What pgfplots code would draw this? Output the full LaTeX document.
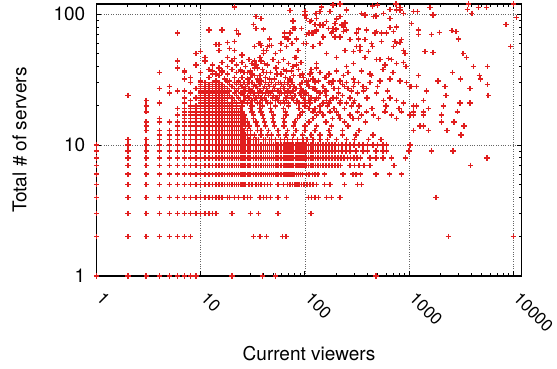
\documentclass[border=0pt]{standalone}
\usepackage{fontspec}
\setmainfont{TeX Gyre Heros}
\usepackage{pgfplots}
\pgfplotsset{compat=1.18}
\usetikzlibrary{calc}
\definecolor{mred}{RGB}{225,30,30}
\pgfplotsset{pts/.style={only marks, mark=+, mark size=2.7bp, color=mred, mark options={draw=mred, line width=1.45bp, solid}}}
\begin{document}
\fontsize{19bp}{22bp}\selectfont
\begin{tikzpicture}
\begin{axis}[
  scale only axis, width=425bp, height=272bp,
  xmode=log, ymode=log,
  xmin=1, xmax=12000, ymin=1, ymax=120,
  xtick={1,10,100,1000,10000}, xticklabels={1,10,100,1000,10000},
  ytick={1,10,100}, yticklabels={1,10,100},
  tick align=inside,
  major tick length=5bp, minor tick length=3bp,
  every tick/.style={draw=black, line width=0.8bp},
  axis line style={draw=black, line width=1.1bp},
  grid=major, major grid style={dotted, draw=black!60, line width=0.7bp},
  xlabel={Current viewers}, ylabel={Total \# of servers},
  xlabel style={at={(axis description cs:0.5,-0.285)}, anchor=center},
  ylabel style={at={(axis description cs:-0.181,0.5)}, anchor=center},
  xticklabel style={font=\fontsize{17bp}{20bp}\selectfont, anchor=north west, inner sep=0pt, xshift=8bp, yshift=-15bp, rotate=-45},
  yticklabel style={inner sep=0pt, xshift=-11bp},
]
% integer grid rows 1-5
\addplot[pts] coordinates {(1,1)(2,1)(3,1)(4,1)(5,1)(6,1)(7,1)(8,1)(9,1)(20,1)(39,1)(52,1)(480,1)
(1,2)(2,2)(3,2)(4,2)(5,2)(6,2)(7,2)(8,2)(32,2)(37,2)(43,2)(61,2)(66,2)(2380,2)(10000,2)
(1,3)(2,3)(3,3)(4,3)(5,3)(6,3)(7,3)(8,3)(9,3)(10,3)(11,3)(12,3)(13,3)(14,3)(20,3)(30,3)(36,3)(55,3)(114,3)
(1,4)(2,4)(3,4)(4,4)(5,4)(6,4)(7,4)(8,4)(9,4)(10,4)(11,4)(12,4)(13,4)(14,4)(15,4)(16,4)(18,4)(19,4)(21,4)(23,4)(26,4)(28,4)(30,4)(37,4)(40,4)(43,4)(47,4)(55,4)(67,4)(108,4)(116,4)(125,4)(135,4)(162,4)(180,4)(218,4)(1810,4)
(1,5)(2,5)(3,5)(4,5)(5,5)(6,5)(7,5)(8,5)(9,5)(10,5)(11,5)(12,5)(13,5)(14,5)(15,5)(16,5)(17,5)(18,5)(19,5)(20,5)(21,5)(22,5)(23,5)(24,5)(25,5)(26,5)(27,5)(29,5)(31,5)(34,5)(36,5)(38,5)(41,5)(44,5)(47,5)(55,5)(62,5)(68,5)(72,5)(76,5)(80,5)(84,5)(88,5)(93,5)(98,5)(105,5)(112,5)(120,5)(130,5)(155,5)(175,5)(240,5)(320,5)(350,5)};
% dense rows 6-10
\addplot[pts] coordinates {(1,6)(2,6)(3,6)(4,6)(5,6)(6,6)(7,6)(8,6)(9,6)(10,6)(11,6)(12,6)(13,6)(14,6)(15,6)(16,6)(17,6)(18,6)(19,6)(20,6)(21,6)(22,6)(23,6)(24,6)(25,6)(26,6)(27,6)(28,6)(29,6)(30,6)(32,6)(34,6)(36,6)(38,6)(40,6)(42,6)(44,6)(46,6)(48,6)(50,6)(52,6)(54,6)(56,6)(58,6)(60,6)(63,6)(66,6)(69,6)(72,6)(75,6)(79,6)(83,6)(87,6)(91,6)(95,6)(104,6)(110,6)(118,6)(125,6)(133,6)(155,6)(232,6)(290,6)(310,6)(340,6)(480,6)(650,6)(850,6)
(1,7)(2,7)(3,7)(4,7)(5,7)(6,7)(7,7)(8,7)(9,7)(10,7)(11,7)(12,7)(13,7)(14,7)(15,7)(16,7)(17,7)(18,7)(19,7)(20,7)(21,7)(22,7)(23,7)(24,7)(25,7)(26,7)(27,7)(28,7)(29,7)(30,7)(32,7)(34,7)(36,7)(38,7)(40,7)(42,7)(44,7)(46,7)(48,7)(50,7)(52,7)(54,7)(56,7)(58,7)(60,7)(63,7)(66,7)(69,7)(72,7)(75,7)(78,7)(81,7)(84,7)(87,7)(90,7)(94,7)(98,7)(103,7)(108,7)(114,7)(120,7)(127,7)(134,7)(142,7)(150,7)(160,7)(170,7)(182,7)(195,7)(208,7)(220,7)(270,7)(300,7)(330,7)(370,7)(420,7)(720,7)(3900,7)
(1,8)(2,8)(3,8)(4,8)(5,8)(6,8)(7,8)(8,8)(9,8)(10,8)(11,8)(12,8)(13,8)(14,8)(15,8)(16,8)(17,8)(18,8)(19,8)(20,8)(21,8)(22,8)(23,8)(24,8)(25,8)(26,8)(27,8)(28,8)(29,8)(30,8)(32,8)(34,8)(36,8)(38,8)(40,8)(42,8)(44,8)(46,8)(48,8)(50,8)(52,8)(54,8)(56,8)(58,8)(60,8)(63,8)(66,8)(69,8)(72,8)(75,8)(78,8)(81,8)(84,8)(87,8)(90,8)(94,8)(98,8)(103,8)(108,8)(114,8)(120,8)(127,8)(134,8)(142,8)(150,8)(160,8)(170,8)(182,8)(195,8)(208,8)(222,8)(238,8)(255,8)(275,8)(295,8)(318,8)(340,8)(420,8)(480,8)(560,8)(680,8)(920,8)(5600,8)
(1,9)(2,9)(3,9)(4,9)(5,9)(6,9)(7,9)(8,9)(9,9)(10,9)(11,9)(12,9)(13,9)(14,9)(15,9)(16,9)(17,9)(18,9)(19,9)(20,9)(21,9)(22,9)(23,9)(24,9)(25,9)(26,9)(27,9)(28,9)(29,9)(30,9)(32,9)(34,9)(36,9)(38,9)(40,9)(42,9)(44,9)(46,9)(48,9)(50,9)(52,9)(54,9)(56,9)(58,9)(60,9)(63,9)(66,9)(69,9)(72,9)(75,9)(78,9)(81,9)(84,9)(87,9)(90,9)(94,9)(98,9)(103,9)(108,9)(114,9)(120,9)(127,9)(134,9)(142,9)(150,9)(160,9)(170,9)(182,9)(195,9)(210,9)(228,9)(248,9)(270,9)(310,9)(360,9)(400,9)(480,9)(560,9)(610,9)(1000,9)(1650,9)(2650,9)
(1,10)(2,10)(3,10)(4,10)(5,10)(6,10)(7,10)(8,10)(9,10)(10,10)(11,10)(12,10)(13,10)(14,10)(15,10)(16,10)(17,10)(18,10)(19,10)(20,10)(21,10)(22,10)(23,10)(24,10)(25,10)(26,10)(27,10)(28,10)(29,10)(30,10)(32,10)(34,10)(36,10)(38,10)(40,10)(42,10)(44,10)(46,10)(48,10)(50,10)(52,10)(54,10)(56,10)(58,10)(60,10)(63,10)(66,10)(69,10)(72,10)(75,10)(78,10)(81,10)(84,10)(87,10)(90,10)(94,10)(98,10)(103,10)(108,10)(114,10)(120,10)(127,10)(134,10)(142,10)(150,10)(160,10)(170,10)(182,10)(195,10)(210,10)(228,10)(248,10)(270,10)(295,10)(330,10)(360,10)(400,10)(450,10)(500,10)(560,10)(610,10)(1020,10)};
% low x, higher y
\addplot[pts] coordinates {(2,11)(2,24)(3,11)(3,13)(3,14)(3,15)(3,18)(3,20)(3,22)
(4,11)(4,12)(4,13)(4,15)(4,16)(4,21)(4,27)(4,36)
(5,11)(5,12)(5,13)(5,15)(5,25)(5,28)
(6,11)(6,12)(6,13)(6,14)(6,15)(6,17)(6,19)(6,26)(6,39)(6,44)(6,72)
(7,11)(7,12)(7,13)(7,14)(7,15)(7,16)(7,17)(7,18)(7,19)(7,21)(7,23)(7,26)(7,32)(7,36)(7,37)
(8,11)(8,12)(8,13)(8,14)(8,15)(8,16)(8,17)(8,18)(8,19)(8,20)(8,22)(8,25)(8,30)(8,33)
(9,11)(9,12)(9,13)(9,14)(9,15)(9,16)(9,17)(9,18)(9,19)(9,20)(9,23)(9,27)(9,41)(9,50)};
% rows 11-20
\addplot[pts] coordinates {(10,11)(11,11)(12,11)(13,11)(14,11)(15,11)(16,11)(17,11)(18,11)(19,11)(20,11)(21,11)(22,11)(23,11)(24,11)(25,11)(26,11)(27,11)(28,11)(29,11)(30,11)(32,11)(34,11)(36,11)(40,11)(42,11)(46,11)(48,11)(52,11)(58,11)(64,11)(68,11)(76,11)(85,11)(96,11)(105,11)(120,11)(140,11)(165,11)(200,11)(250,11)(300,11)(410,11)(540,11)
(10,12)(11,12)(12,12)(13,12)(14,12)(15,12)(16,12)(17,12)(18,12)(19,12)(20,12)(21,12)(22,12)(23,12)(24,12)(25,12)(26,12)(27,12)(28,12)(30,12)(33,12)(38,12)(44,12)(48,12)(56,12)(66,12)(78,12)(95,12)(115,12)(140,12)(175,12)(230,12)(310,12)(450,12)(3200,12)
(10,13)(11,13)(12,13)(13,13)(14,13)(15,13)(16,13)(17,13)(18,13)(19,13)(20,13)(21,13)(22,13)(23,13)(24,13)(25,13)(26,13)(28,13)(30,13)(35,13)(38,13)(45,13)(55,13)(68,13)(82,13)(100,13)(125,13)(170,13)(230,13)(330,13)(1530,13)(2320,13)
(10,14)(11,14)(12,14)(13,14)(14,14)(15,14)(16,14)(17,14)(18,14)(19,14)(20,14)(21,14)(22,14)(23,14)(24,14)(25,14)(27,14)(29,14)(35,14)(42,14)(51,14)(63,14)(78,14)(100,14)(130,14)(180,14)(260,14)(1270,14)(3370,14)
(10,15)(11,15)(12,15)(13,15)(14,15)(15,15)(16,15)(17,15)(18,15)(19,15)(20,15)(21,15)(22,15)(23,15)(24,15)(26,15)(28,15)(34,15)(41,15)(50,15)(64,15)(80,15)(110,15)(160,15)(240,15)(380,15)(2050,15)(2700,15)
(10,16)(11,16)(12,16)(13,16)(14,16)(15,16)(16,16)(17,16)(18,16)(19,16)(20,16)(21,16)(22,16)(23,16)(25,16)(27,16)(32,16)(40,16)(49,16)(62,16)(85,16)(120,16)(185,16)(290,16)
(10,17)(11,17)(12,17)(13,17)(14,17)(15,17)(16,17)(17,17)(18,17)(19,17)(20,17)(21,17)(22,17)(24,17)(26,17)(32,17)(39,17)(50,17)(66,17)(90,17)(130,17)(210,17)(350,17)(1100,17)(1370,17)(2050,17)
(10,18)(11,18)(12,18)(13,18)(14,18)(15,18)(16,18)(17,18)(18,18)(19,18)(20,18)(21,18)(23,18)(25,18)(31,18)(38,18)(48,18)(65,18)(95,18)(140,18)(200,18)(320,18)(2900,18)
(10,19)(11,19)(12,19)(13,19)(14,19)(15,19)(16,19)(17,19)(18,19)(19,19)(20,19)(22,19)(24,19)(30,19)(37,19)(47,19)(62,19)(88,19)(125,19)(190,19)(1530,19)
(10,20)(11,20)(12,20)(13,20)(14,20)(15,20)(16,20)(17,20)(18,20)(19,20)(20,20)(22,20)(25,20)(31,20)(39,20)(52,20)(70,20)(100,20)(165,20)(280,20)(1180,20)(2130,20)};
% rows 21-30
\addplot[pts] coordinates {(10,21)(11,21)(12,21)(13,21)(14,21)(15,21)(16,21)(17,21)(18,21)(20,21)(22,21)(25,21)(28,21)(30,21)(35,21)(37,21)(44,21)(47,21)(58,21)(64,21)(70,21)(88,21)(100,21)(112,21)(150,21)(170,21)(250,21)(3080,21)(3840,21)
(10,22)(11,22)(12,22)(13,22)(14,22)(15,22)(16,22)(17,22)(21,22)(24,22)(26,22)(31,22)(33,22)(39,22)(42,22)(52,22)(55,22)(62,22)(78,22)(84,22)(110,22)(125,22)(175,22)(220,22)(300,22)(1370,22)
(10,23)(11,23)(12,23)(13,23)(14,23)(15,23)(16,23)(18,23)(20,23)(23,23)(27,23)(29,23)(34,23)(38,23)(41,23)(49,23)(53,23)(66,23)(75,23)(97,23)(115,23)(135,23)(200,23)(270,23)
(10,24)(11,24)(12,24)(13,24)(14,24)(15,24)(17,24)(19,24)(22,24)(26,24)(28,24)(32,24)(36,24)(45,24)(50,24)(57,24)(68,24)(80,24)(92,24)(108,24)(160,24)(230,24)(2260,24)(5750,24)
(10,25)(11,25)(12,25)(13,25)(14,25)(16,25)(18,25)(21,25)(24,25)(25,25)(30,25)(33,25)(39,25)(42,25)(47,25)(60,25)(64,25)(73,25)(90,25)(100,25)(140,25)(210,25)(320,25)
(10,26)(11,26)(12,26)(13,26)(15,26)(17,26)(19,26)(22,26)(27,26)(30,26)(31,26)(37,26)(44,26)(49,26)(55,26)(69,26)(77,26)(96,26)(130,26)(155,26)(280,26)(3840,27)
(10,27)(11,27)(12,27)(14,27)(16,27)(18,27)(21,27)(23,27)(26,27)(29,27)(35,27)(40,27)(43,27)(51,27)(58,27)(63,27)(82,27)(92,27)(120,27)(190,27)(260,27)(1060,28)
(10,28)(11,28)(13,28)(15,28)(17,28)(20,28)(25,28)(27,28)(32,28)(34,28)(41,28)(46,28)(50,28)(62,28)(72,28)(79,28)(110,28)(150,28)(240,28)(360,28)(1020,28)(5630,29)
(10,29)(12,29)(14,29)(16,29)(19,29)(22,29)(24,29)(28,29)(33,29)(37,29)(45,29)(52,29)(60,29)(68,29)(90,29)(105,29)(180,29)(230,29)
(10,30)(11,30)(13,30)(15,30)(18,30)(21,30)(23,30)(26,30)(29,30)(31,30)(36,30)(42,30)(48,30)(56,30)(64,30)(75,30)(95,30)(125,30)(170,30)(300,30)(420,30)};
% scattered cloud
\addplot[pts] coordinates {(1100,105)(1060,85)(1590,113)(1690,99)(1225,76)(1225,70)(1650,70)(1950,73)(2570,75)(2830,74)(2970,65)(3700,120)(3620,109)(4000,102)(4620,113)(5560,113)(8510,84)(10000,120)(10800,95)(9440,57)(1420,52)(1690,51)(3310,50)(3570,47)(4130,40)(5630,40)(4720,34)(4860,32)(2620,36)(3130,32)(1225,34)(1900,31)(2210,28)(2900,18)(2050,17)(1370,18)(1100,18)(3130,12)(1100,13)(1370,14)(1530,19)
(21,114)(34,96)(38,93)(32,84)(34,78)(40,77)(72,107)(77,89)(80,78)(64,72)(69,65)(58,60)(100,99)(104,70)(116,72)(130,74)(104,60)(120,57)(12,76)(16,76)(22,75)(23,71)(21,62)(14,59)(15,59)(15,53)(18,61)(19,55)(21,53)(18,47)(21,46)(10,52)(11,47)(25,49)(25,43)(27,40)(36,60)(38,58)(44,57)(48,58)(46,65)(40,50)(43,53)(58,53)(67,57)(75,60)(86,53)(80,47)
(13,37)(14,35)(16,36)(18,31)(24,37)(28,36)(30,33)(33,39)(37,34)(43,36)(46,32)(54,35)(58,30)(67,37)(72,32)(83,41)(90,34)(104,31)(116,36)(130,39)
(145,114)(187,118)(217,120)(448,116)(495,118)(749,120)(818,113)(100,105)(128,102)(140,105)(174,105)(252,108)(351,102)(481,97)(656,109)(818,108)(1200,105)(104,93)(116,90)(125,84)(140,83)(162,88)(195,85)(202,92)(217,96)(225,83)(243,86)(110,72)(130,76)(150,67)(181,72)(187,78)(199,77)(195,67)(234,74)(252,76)(314,72)(326,77)(471,72)(546,72)(656,79)(706,74)(733,62)(760,60)(818,61)(849,64)(448,57)(338,57)(326,65)(377,64)(271,64)(243,53)(292,52)(338,53)(406,52)(526,45)(681,45)(587,41)(881,43)(935,40)
(97,33)(108,31)(120,32)(135,31)(156,33)(187,31)(234,34)(252,30)(292,32)(326,30)(364,26)(438,34)(526,31)(656,32)(818,31)(948,30)(1180,28)(1475,26)(104,25)(130,23)(162,22)(187,23)(217,21)(271,23)(292,21)(393,23)(489,25)(568,22)(656,23)(760,22)(881,21)(1100,20)
(120,18)(150,17)(174,18)(217,16)(271,17)(326,16)(392,18)(454,17)(507,16)(587,18)(681,17)(760,16)(849,18)(1020,17)
(33,57)(37,60)(40,53)(46,58)(52,50)(60,60)(64,67)(72,72)(77,78)(83,65)(93,78)(97,60)(62,45)(50,45)(77,40)(69,30)(93,30)(97,25)(38,31)(34,41)(41,42)(36,25)(43,22)(54,23)(67,22)(83,21)(100,22)
(112,88)(130,93)(150,83)(168,78)(187,74)(217,67)(234,80)(271,64)(314,57)(120,72)(140,60)(162,50)(202,47)(252,40)(292,42)(130,42)(112,35)(162,33)(217,31)(292,28)
(377,99)(454,96)(566,102)(656,93)(760,108)(881,102)(392,76)(489,74)(610,72)(760,80)(849,64)(438,60)(546,62)(706,57)(881,53)(377,47)(489,45)(632,46)(760,42)(914,50)
(10,36)(10,31)(11,44)(12,38)(12,33)(13,41)(13,35)(14,31)(15,39)(15,34)(16,43)(16,37)(17,32)(18,40)(18,35)(19,31)(20,44)(20,38)(21,33)(22,41)(22,36)(23,31)(24,38)(25,43)(25,33)(26,36)(27,40)(28,32)(29,45)(30,37)(31,42)(33,34)(35,39)(36,31)(38,44)(40,36)
(31,35)(33,44)(35,32)(37,47)(39,38)(42,33)(44,41)(47,36)(49,45)(51,32)(53,39)(56,43)(59,35)(62,38)(65,33)(70,42)(74,37)(78,34)(82,47)(87,38)(92,43)(95,35)
(115,38)(140,36)(170,35)(200,37)(260,36)(350,37)(420,35)(560,38)(700,36)(125,27)(160,26)(210,27)(280,26)(390,27)(500,28)(620,26)(110,19)(140,20)(190,19)(240,19)(330,20)(440,19)(600,20)(800,19)};
\coordinate (ll) at (rel axis cs:0,0);
\coordinate (ur) at (rel axis cs:1,1);
\end{axis}
\pgfresetboundingbox
\path[use as bounding box] ($(ll)+(-96.5bp,-93bp)$) rectangle ($(ur)+(35.5bp,4bp)$);
\end{tikzpicture}
\end{document}
